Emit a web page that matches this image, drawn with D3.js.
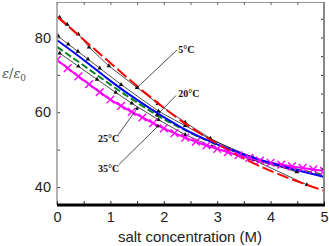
<!DOCTYPE html>
<html>
<head>
<meta charset="utf-8">
<script src="https://cdn.jsdelivr.net/npm/d3@7"></script>
<style>
  body { margin: 0; background: #fff; }
  svg { display: block; }
  .tick text { font-family: "Liberation Sans", Arial, sans-serif; }
</style>
</head>
<body>
<div class="chart-container"></div>
<script>
// fitted curves, 0.5 M steps
const conc = [0, 0.5, 1, 1.5, 2, 2.5, 3, 3.5, 4, 4.5, 5];
const fit5 = [85.6, 79.4, 73.2, 67.0, 61.2, 56.0, 51.6, 47.6, 44.3, 41.5, 39.0];
const fit20 = [79.3, 74.0, 68.4, 63.3, 58.7, 54.6, 51.4, 48.7, 46.4, 44.5, 42.7];
const fit25 = [77.5, 72.5, 67.4, 62.6, 58.2, 54.5, 51.3, 48.6, 46.4, 44.7, 43.3];

// 35 C curve with cross markers, 0.2 M steps
const conc35 = [0, 0.2, 0.4, 0.6, 0.8, 1, 1.2, 1.4, 1.6, 1.8, 2, 2.2, 2.4, 2.6, 2.8, 3, 3.2, 3.4, 3.6, 3.8, 4, 4.2, 4.4, 4.6, 4.8, 5];
const fit35 = [74.0, 71.8, 69.6, 67.5, 65.4, 63.4, 61.7, 60.1, 58.6, 57.1, 55.7, 54.4, 53.2, 52.1, 51.1, 50.2,
               49.3, 48.5, 47.8, 47.1, 46.5, 46.0, 45.5, 45.1, 44.7, 44.3];

// measured points (thin black lines)
const exp5x = [0.05, 0.19, 0.4, 0.6, 0.97, 1.5, 1.89, 2.4, 2.87, 3.67, 4.68];
const exp5y = [85.4, 83.5, 80.9, 77.4, 72.4, 66.6, 62.3, 57.3, 53.0, 47.3, 40.6];
const exp20x = [0.02, 0.21, 0.39, 0.58, 0.8, 1.2, 1.9, 2.4, 2.87, 3.67, 4.49];
const exp20y = [80.4, 78.2, 76.3, 74.2, 71.8, 67.4, 60.3, 56.4, 52.8, 47.9, 44.0];
const exp25x = [0.05, 0.4, 0.75, 1.1, 1.4, 1.9, 2.4, 2.9, 3.6, 4.5];
const exp25y = [75.8, 72.3, 68.8, 65.3, 62.4, 58.0, 54.0, 50.8, 47.5, 44.2];

const xTicks = [0, 1, 2, 3, 4, 5];
const yTicks = [40, 60, 80];

// temperature labels: text position and leader end (data units)
const labels = [
    { text: "5°C",  tx: 2.27, ty: 75.9, lx: 2.25, ly: 76.7, ex: 1.5,  ey: 66.6 },
    { text: "20°C", tx: 2.27, ty: 64.1, lx: 2.23, ly: 64.5, ex: 1.87, ey: 59.2 },
    { text: "25°C", tx: 0.77, ty: 52.1, lx: 1.14, ly: 53.9, ex: 1.5,  ey: 61.0 },
    { text: "35°C", tx: 0.77, ty: 44.1, lx: 1.16, ly: 46.0, ex: 1.89, ey: 56.3 }
];

const W = 329, H = 246;
const m = { left: 57, right: 324, top: 2, bottom: 205 };

const svg = d3.select(".chart-container")
    .append("svg")
    .attr("width", W)
    .attr("height", H);

svg.append("rect").attr("width", W).attr("height", H).attr("fill", "#fff");

const xScale = d3.scaleLinear().domain([0, 5]).range([m.left, m.right]);
const yScale = d3.scaleLinear().domain([40, 80]).range([187, 37.5]);

svg.append("defs").append("clipPath").attr("id", "plot")
    .append("rect")
    .attr("x", m.left).attr("y", m.top)
    .attr("width", m.right - m.left).attr("height", m.bottom - m.top);

const plot = svg.append("g").attr("clip-path", "url(#plot)");

const line = d3.line()
    .x(d => xScale(d[0]))
    .y(d => yScale(d[1]))
    .curve(d3.curveMonotoneX);

const straight = d3.line()
    .x(d => xScale(d[0]))
    .y(d => yScale(d[1]));

const zip = (xs, ys) => xs.map((x, i) => [x, ys[i]]);

// measured data, black thin lines with small markers
[[exp5x, exp5y], [exp20x, exp20y], [exp25x, exp25y]].forEach(([xs, ys]) => {
    const pts = zip(xs, ys);
    plot.append("path")
        .datum(pts)
        .attr("d", straight)
        .attr("fill", "none")
        .attr("stroke", "#222")
        .attr("stroke-width", 0.8);
    plot.selectAll(null)
        .data(pts)
        .enter()
        .append("path")
        .attr("d", d3.symbol().type(d3.symbolTriangle).size(9))
        .attr("transform", d => `translate(${xScale(d[0])}, ${yScale(d[1])})`)
        .attr("fill", "#111");
});

// fitted curves
plot.append("path")
    .datum(zip(conc, fit25))
    .attr("d", line)
    .attr("fill", "none")
    .attr("stroke", "#00851a")
    .attr("stroke-width", 2)
    .attr("stroke-dasharray", "7,3");

plot.append("path")
    .datum(zip(conc35, fit35))
    .attr("d", line)
    .attr("fill", "none")
    .attr("stroke", "#ff00ff")
    .attr("stroke-width", 2);

plot.append("path")
    .datum(zip(conc, fit20))
    .attr("d", line)
    .attr("fill", "none")
    .attr("stroke", "#0000ff")
    .attr("stroke-width", 2);

plot.append("path")
    .datum(zip(conc, fit5))
    .attr("d", line)
    .attr("fill", "none")
    .attr("stroke", "#ff0000")
    .attr("stroke-width", 2)
    .attr("stroke-dasharray", "12,4");

// cross markers on 35 C
const cross = d3.symbol().type(d3.symbolX).size(40);
plot.selectAll(null)
    .data(zip(conc35, fit35))
    .enter()
    .append("path")
    .attr("d", cross)
    .attr("transform", d => `translate(${xScale(d[0])}, ${yScale(d[1])})`)
    .attr("fill", "none")
    .attr("stroke", "#ff00ff")
    .attr("stroke-width", 1.4);

// leaders and labels
labels.forEach(l => {
    svg.append("line")
        .attr("x1", xScale(l.lx)).attr("y1", yScale(l.ly))
        .attr("x2", xScale(l.ex)).attr("y2", yScale(l.ey))
        .attr("stroke", "#222")
        .attr("stroke-width", 0.8);
    svg.append("circle")
        .attr("cx", xScale(l.ex)).attr("cy", yScale(l.ey))
        .attr("r", 1.5)
        .attr("fill", "#111");
    svg.append("text")
        .attr("x", xScale(l.tx))
        .attr("y", yScale(l.ty))
        .attr("font-family", "Liberation Serif, Times New Roman, serif")
        .attr("font-weight", "bold")
        .attr("font-size", 10)
        .attr("fill", "#111")
        .text(l.text);
});

// axes
const minorX = d3.range(0, 5.01, 0.5);
const minorY = d3.range(40, 86, 5);

svg.append("g")
    .attr("transform", `translate(0, ${m.top})`)
    .call(d3.axisBottom(xScale).tickValues(minorX).tickSize(3).tickFormat(""))
    .call(g => g.select(".domain").attr("stroke", "#999"))
    .call(g => g.selectAll(".tick line").attr("stroke", "#666"));

svg.append("g")
    .attr("transform", `translate(${m.right}, 0)`)
    .call(d3.axisLeft(yScale).tickValues(minorY).tickSize(3).tickFormat(""))
    .call(g => g.select(".domain").remove())
    .call(g => g.selectAll(".tick line").attr("stroke", "#333"));

svg.append("line")
    .attr("x1", m.right).attr("x2", m.right)
    .attr("y1", m.top).attr("y2", m.bottom)
    .attr("stroke", "#888")
    .attr("stroke-width", 2);

svg.append("g")
    .attr("transform", `translate(${m.left}, 0)`)
    .call(d3.axisRight(yScale).tickValues(d3.range(40, 81, 10)).tickSize(3).tickFormat(""))
    .call(g => g.select(".domain").remove())
    .call(g => g.selectAll(".tick line").attr("stroke", "#444"));

svg.append("line")
    .attr("x1", m.left).attr("x2", m.left)
    .attr("y1", m.top).attr("y2", m.bottom)
    .attr("stroke", "#999")
    .attr("stroke-width", 1.5);

svg.append("g")
    .attr("transform", `translate(0, ${m.bottom})`)
    .call(d3.axisTop(xScale).tickValues(minorX).tickSize(4).tickFormat(""))
    .call(g => g.select(".domain").remove())
    .call(g => g.selectAll(".tick line").attr("stroke", "#333"));

svg.append("line")
    .attr("x1", m.left).attr("x2", m.right + 1)
    .attr("y1", m.bottom).attr("y2", m.bottom)
    .attr("stroke", "#000")
    .attr("stroke-width", 3);

// tick labels
svg.append("g")
    .attr("transform", `translate(0, ${m.bottom})`)
    .call(d3.axisBottom(xScale).tickValues(xTicks).tickSize(0).tickPadding(7).tickFormat(d3.format("d")))
    .call(g => g.select(".domain").remove())
    .call(g => g.selectAll("text").attr("font-size", 14.5).attr("fill", "#222"));

svg.append("g")
    .attr("transform", `translate(${m.left}, 0)`)
    .call(d3.axisLeft(yScale).tickValues(yTicks).tickSize(0).tickPadding(6).tickFormat(d3.format("d")))
    .call(g => g.select(".domain").remove())
    .call(g => g.selectAll("text").attr("font-size", 14.5).attr("fill", "#222"));

// axis titles
svg.append("text")
    .attr("x", 190)
    .attr("y", 242)
    .attr("text-anchor", "middle")
    .attr("font-family", "Liberation Sans, Arial, sans-serif")
    .attr("font-size", 15)
    .attr("fill", "#222")
    .text("salt concentration (M)");

const yl = svg.append("text")
    .attr("x", 2)
    .attr("y", 78)
    .attr("font-family", "DejaVu Serif, serif")
    .attr("font-size", 13)
    .attr("fill", "#555");
yl.append("tspan").attr("font-style", "italic").text("ε");
yl.append("tspan").text("/");
yl.append("tspan").attr("font-style", "italic").text("ε");
yl.append("tspan").attr("font-size", 9).attr("dy", 3).text("0");
</script>
</body>
</html>
